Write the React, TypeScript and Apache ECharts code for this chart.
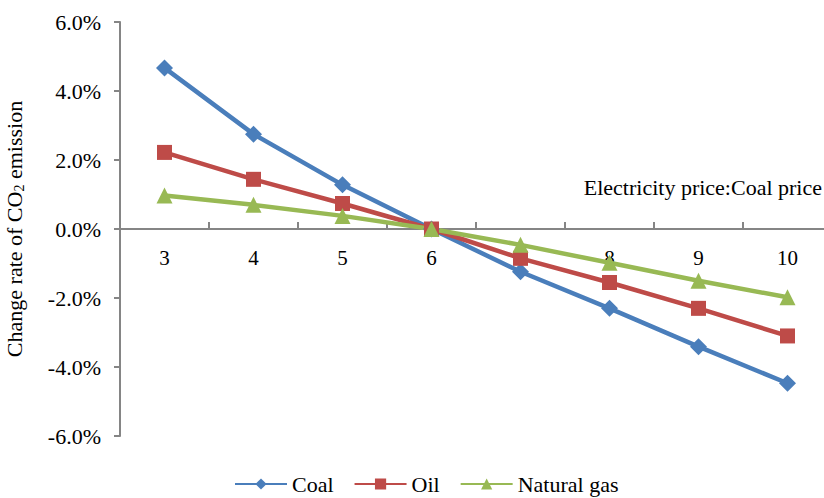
import React, { useEffect, useRef } from "react";
import * as echarts from "echarts";

const categories = ["3", "4", "5", "6", "7", "8", "9", "10"];
const coal = [0.0467, 0.0275, 0.0128, 0, -0.0124, -0.023, -0.0341, -0.0447];
const oil = [0.0222, 0.0144, 0.0074, 0, -0.0085, -0.0155, -0.023, -0.031];
const gas = [0.0097, 0.007, 0.0038, 0, -0.0046, -0.0098, -0.015, -0.0198];
const seriesNames = ["Coal", "Oil", "Natural gas"];
const colors = ["#4A7EBB", "#BE4B48", "#98B954"];
const xAxisTitle = "Electricity price:Coal price";

const FONT = "Liberation Serif";
const AXIS = "#858585";

export default function App() {
  const ref = useRef<HTMLDivElement>(null);
  useEffect(() => {
    if (!ref.current) return;
    const chart = echarts.init(ref.current, null, { renderer: "svg" });
    const mk = (name: string, data: number[], color: string, symbol: string, size: number) => ({
      name,
      type: "line",
      data,
      xAxisIndex: 0,
      symbol,
      symbolSize: size,
      showAllSymbol: true,
      lineStyle: { color, width: 4.5 },
      itemStyle: { color },
    });
    chart.setOption({
      animation: false,
      backgroundColor: "#ffffff",
      textStyle: { fontFamily: FONT },
      grid: { left: 120, top: 22, height: 414, width: 712, outerBoundsMode: "none", containLabel: false },
      xAxis: [
        {
          type: "category",
          data: categories,
          boundaryGap: true,
          axisLine: { show: true, onZero: true, lineStyle: { color: AXIS, width: 2 } },
          axisTick: { show: true, inside: true, length: 7, lineStyle: { color: AXIS, width: 2 } },
          axisLabel: { show: false },
          splitLine: { show: false },
        },
        {
          type: "category",
          data: categories,
          boundaryGap: true,
          position: "bottom",
          offset: -207,
          axisLine: { show: false, onZero: false },
          axisTick: { show: false },
          axisLabel: { color: "#000", fontSize: 21, fontFamily: FONT, margin: 18 },
          splitLine: { show: false },
        },
      ],
      yAxis: {
        type: "value",
        min: -0.06,
        max: 0.06,
        interval: 0.02,
        name: "Change rate of CO{sub|2} emission",
        nameLocation: "middle",
        nameGap: 94,
        nameRotate: 90,
        nameTextStyle: {
          color: "#000",
          fontSize: 22,
          fontFamily: FONT,
          rich: {
            sub: { fontSize: 14, fontFamily: FONT, color: "#000", verticalAlign: "bottom", padding: [9, 0, 0, 0] },
          },
        },
        axisLine: { show: true, lineStyle: { color: AXIS, width: 2 } },
        axisTick: { show: true, length: 6, lineStyle: { color: AXIS, width: 2 } },
        axisLabel: {
          color: "#000",
          fontSize: 22,
          fontFamily: FONT,
          margin: 19,
          formatter: (v: number) => (v * 100).toFixed(1) + "%",
        },
        splitLine: { show: false },
      },
      legend: {
        data: seriesNames,
        left: 229,
        top: 468,
        itemWidth: 52,
        itemHeight: 14,
        itemGap: 20,
        textStyle: { color: "#000", fontSize: 22, fontFamily: FONT },
      },
      graphic: [
        {
          type: "text",
          right: 2,
          top: 176,
          style: { text: xAxisTitle, fill: "#000", font: `22px ${FONT}` },
        },
      ],
      series: [
        mk(seriesNames[0], coal, colors[0], "diamond", 17),
        mk(seriesNames[1], oil, colors[1], "rect", 15),
        mk(seriesNames[2], gas, colors[2], "triangle", 16),
      ],
    });
    return () => chart.dispose();
  }, []);
  return (
    <div
      ref={ref}
      style={{ position: "fixed", left: 0, top: 0, width: 824, height: 498, background: "#fff" }}
    />
  );
}
